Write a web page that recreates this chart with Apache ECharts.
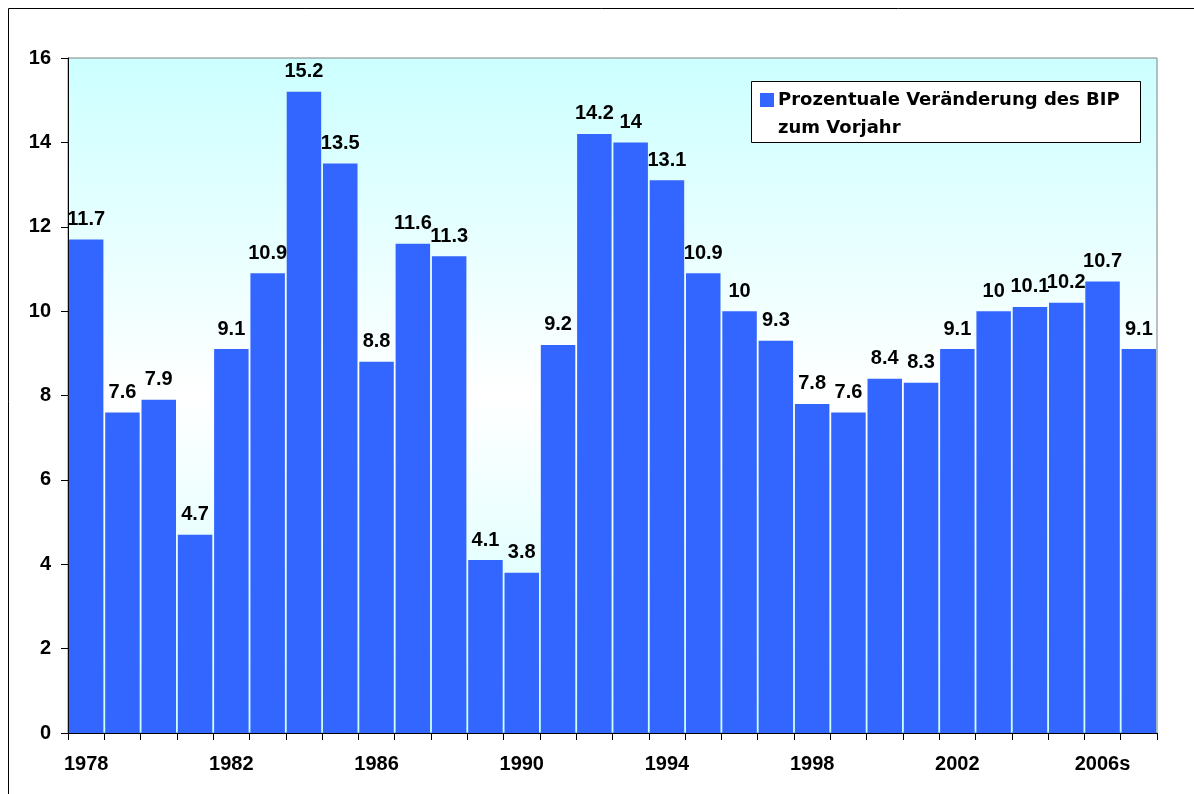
<!DOCTYPE html>
<html><head><meta charset="utf-8">
<script src="https://cdn.jsdelivr.net/npm/echarts@6/dist/echarts.min.js"></script>
<style>html,body{margin:0;padding:0;background:#fff}#c{width:1194px;height:794px}</style>
</head><body><div id="c"></div>
<script>
const years = ['1978','1979','1980','1981','1982','1983','1984','1985','1986','1987','1988','1989','1990','1991','1992','1993','1994','1995','1996','1997','1998','1999','2000','2001','2002','2003','2004','2005','2006s','2007'];
const growth = [11.7,7.6,7.9,4.7,9.1,10.9,15.2,13.5,8.8,11.6,11.3,4.1,3.8,9.2,14.2,14,13.1,10.9,10,9.3,7.8,7.6,8.4,8.3,9.1,10,10.1,10.2,10.7,9.1];
const yTicks = [0,2,4,6,8,10,12,14,16];
const seriesName = 'Prozentuale Veränderung des BIP\nzum Vorjahr';

const chart = echarts.init(document.getElementById('c'));
const font = 'Liberation Sans, Arial, sans-serif';
chart.setOption({
  animation: false,
  textStyle: {fontFamily: font},
  grid: {left: 68, top: 58, right: 1194 - 1157, bottom: 794 - 733, show: true,
    borderColor: '#808080', borderWidth: 1,
    backgroundColor: {type: 'linear', x: 0, y: 0, x2: 0, y2: 1,
      colorStops: [{offset: 0, color: '#CCFFFF'}, {offset: 0.5, color: '#FFFFFF'}, {offset: 1, color: '#CCFFFF'}]}},
  xAxis: {type: 'category', data: years,
    axisLine: {lineStyle: {color: '#000', width: 1}},
    axisTick: {show: true, interval: 0, length: 7, lineStyle: {color: '#000'}},
    axisLabel: {interval: 3, margin: 21, color: '#000', fontWeight: 'bold', fontSize: 20, fontFamily: font}},
  yAxis: {type: 'value', min: 0, max: 16, interval: 2,
    splitLine: {show: false},
    axisLine: {show: true, lineStyle: {color: '#000'}},
    axisTick: {show: true, length: 7, inside: false, lineStyle: {color: '#000'}},
    axisLabel: {margin: 17, color: '#000', fontWeight: 'bold', fontSize: 20, fontFamily: font,
      formatter: v => yTicks.includes(v) ? String(v) : ''}},
  series: [{type: 'bar', name: seriesName, data: growth, barCategoryGap: '5%',
    itemStyle: {color: '#3366FF'},
    label: {show: true, position: 'top', distance: 10, color: '#000', fontWeight: 'bold', fontSize: 20, fontFamily: font}}],
  graphic: [
    {type: 'rect', shape: {x: 8.5, y: 8.5, width: 1300, height: 900}, style: {fill: 'none', stroke: '#000', lineWidth: 1}, silent: true},
    {type: 'group', left: 751, top: 81, children: [
      {type: 'rect', shape: {x: 0.5, y: 0.5, width: 389, height: 61}, style: {fill: '#fff', stroke: '#000', lineWidth: 1}},
      {type: 'rect', shape: {x: 9, y: 12, width: 14, height: 14}, style: {fill: '#3366FF'}},
      {type: 'text', x: 27, y: 5, style: {text: seriesName, fill: '#000', font: 'bold 18px DejaVu Sans, sans-serif', lineHeight: 28}}
    ]}
  ]
});
</script></body></html>
